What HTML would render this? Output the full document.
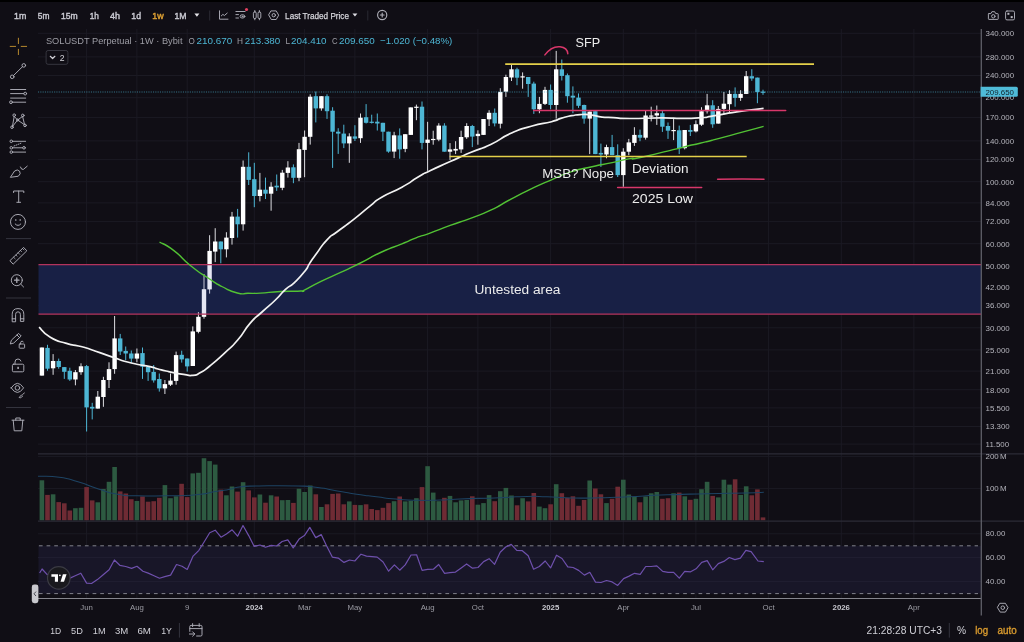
<!DOCTYPE html>
<html lang="en"><head><meta charset="utf-8"><title>SOLUSDT Perpetual 1W Bybit</title>
<style>
html,body{margin:0;padding:0;background:#100e15;}
body{width:1024px;height:642px;overflow:hidden;position:relative;font-family:"Liberation Sans", Arial, Helvetica, sans-serif;}
svg{position:absolute;left:0;top:0;display:block;will-change:transform}
text{font-family:"Liberation Sans", Arial, Helvetica, sans-serif;}
.ax{font-size:7.9px;fill:#b4b4bc}
.tm{font-size:7.8px;fill:#9b9ba3;text-anchor:middle}
.tmb{font-size:7.8px;fill:#c8c8cf;text-anchor:middle;font-weight:bold}
.tf{font-size:9.3px;fill:#d6d6dc;font-weight:bold}
.an{font-size:13.3px;fill:#ececec}
.bt{font-size:10.2px;fill:#cfcfd6}
.ic{fill:none;stroke:#aeaeb7;stroke-width:0.95;stroke-linecap:round;stroke-linejoin:round}
</style></head><body>
<svg width="1024" height="642" viewBox="0 0 1024 642">
<rect x="0" y="0" width="1024" height="642" fill="#100e15"/>
<rect x="0" y="0" width="1024" height="2" fill="#000"/>

<g stroke="#1b1a23" stroke-width="1">
<line x1="38" y1="33.3" x2="981" y2="33.3"/>
<line x1="38" y1="56.9" x2="981" y2="56.9"/>
<line x1="38" y1="75.5" x2="981" y2="75.5"/>
<line x1="38" y1="97.7" x2="981" y2="97.7"/>
<line x1="38" y1="117.4" x2="981" y2="117.4"/>
<line x1="38" y1="140.9" x2="981" y2="140.9"/>
<line x1="38" y1="159.6" x2="981" y2="159.6"/>
<line x1="38" y1="181.7" x2="981" y2="181.7"/>
<line x1="38" y1="202.9" x2="981" y2="202.9"/>
<line x1="38" y1="221.6" x2="981" y2="221.6"/>
<line x1="38" y1="243.7" x2="981" y2="243.7"/>
<line x1="38" y1="265.8" x2="981" y2="265.8"/>
<line x1="38" y1="287" x2="981" y2="287"/>
<line x1="38" y1="305.7" x2="981" y2="305.7"/>
<line x1="38" y1="327.8" x2="981" y2="327.8"/>
<line x1="38" y1="349.9" x2="981" y2="349.9"/>
<line x1="38" y1="371.1" x2="981" y2="371.1"/>
<line x1="38" y1="389.7" x2="981" y2="389.7"/>
<line x1="38" y1="407.9" x2="981" y2="407.9"/>
<line x1="38" y1="426.5" x2="981" y2="426.5"/>
<line x1="38" y1="444.1" x2="981" y2="444.1"/>
<line x1="38" y1="456.4" x2="981" y2="456.4"/>
<line x1="38" y1="488.4" x2="981" y2="488.4"/>
<line x1="38" y1="533.8" x2="981" y2="533.8"/>
<line x1="38" y1="557.7" x2="981" y2="557.7"/>
<line x1="38" y1="581.6" x2="981" y2="581.6"/>
<line x1="86.6" y1="29" x2="86.6" y2="598"/>
<line x1="136.9" y1="29" x2="136.9" y2="598"/>
<line x1="187.2" y1="29" x2="187.2" y2="598"/>
<line x1="254.3" y1="29" x2="254.3" y2="598"/>
<line x1="304.6" y1="29" x2="304.6" y2="598"/>
<line x1="354.9" y1="29" x2="354.9" y2="598"/>
<line x1="427.6" y1="29" x2="427.6" y2="598"/>
<line x1="477.9" y1="29" x2="477.9" y2="598"/>
<line x1="550.6" y1="29" x2="550.6" y2="598"/>
<line x1="623.3" y1="29" x2="623.3" y2="598"/>
<line x1="695.9" y1="29" x2="695.9" y2="598"/>
<line x1="768.6" y1="29" x2="768.6" y2="598"/>
<line x1="841.3" y1="29" x2="841.3" y2="598"/>
<line x1="913.9" y1="29" x2="913.9" y2="598"/>
</g>
<rect x="38.5" y="264.6" width="942.5" height="49.6" fill="#161e39"/>
<g>
<rect x="41.4" y="347.5" width="1" height="28.1" fill="#dddde1"/>
<rect x="39.7" y="347.5" width="4.4" height="28.1" fill="#ffffff"/>
<rect x="47" y="344.8" width="1" height="25.9" fill="#4db6d4"/>
<rect x="45.3" y="347.9" width="4.4" height="20.8" fill="#4db6d4"/>
<rect x="52.6" y="354.1" width="1" height="20.7" fill="#dddde1"/>
<rect x="50.9" y="361" width="4.4" height="7.3" fill="#ffffff"/>
<rect x="58.2" y="358.6" width="1" height="10.1" fill="#4db6d4"/>
<rect x="56.5" y="361" width="4.4" height="6" fill="#4db6d4"/>
<rect x="63.8" y="367" width="1" height="11.9" fill="#4db6d4"/>
<rect x="62.1" y="367.1" width="4.4" height="4.7" fill="#4db6d4"/>
<rect x="69.3" y="367.7" width="1" height="13.2" fill="#4db6d4"/>
<rect x="67.6" y="370.8" width="4.4" height="8.7" fill="#4db6d4"/>
<rect x="74.9" y="370" width="1" height="15.3" fill="#dddde1"/>
<rect x="73.2" y="372.2" width="4.4" height="7.3" fill="#ffffff"/>
<rect x="80.5" y="363.3" width="1" height="11.5" fill="#dddde1"/>
<rect x="78.8" y="366.3" width="4.4" height="5.9" fill="#ffffff"/>
<rect x="86.1" y="365" width="1" height="66.5" fill="#4db6d4"/>
<rect x="84.4" y="366.1" width="4.4" height="41.3" fill="#4db6d4"/>
<rect x="91.7" y="402.8" width="1" height="16.6" fill="#4db6d4"/>
<rect x="90" y="406.8" width="4.4" height="1.8" fill="#4db6d4"/>
<rect x="97.3" y="391" width="1" height="17.6" fill="#dddde1"/>
<rect x="95.6" y="396.7" width="4.4" height="11.9" fill="#ffffff"/>
<rect x="102.9" y="376.8" width="1" height="30" fill="#dddde1"/>
<rect x="101.2" y="380" width="4.4" height="17" fill="#ffffff"/>
<rect x="108.5" y="362.3" width="1" height="25.7" fill="#dddde1"/>
<rect x="106.8" y="369.1" width="4.4" height="10.9" fill="#ffffff"/>
<rect x="114.1" y="316" width="1" height="57.8" fill="#dddde1"/>
<rect x="112.4" y="338.4" width="4.4" height="30.7" fill="#ffffff"/>
<rect x="119.7" y="333.9" width="1" height="21.1" fill="#4db6d4"/>
<rect x="118" y="338.4" width="4.4" height="13.1" fill="#4db6d4"/>
<rect x="125.2" y="346.5" width="1" height="13.7" fill="#4db6d4"/>
<rect x="123.5" y="350.9" width="4.4" height="2.6" fill="#4db6d4"/>
<rect x="130.8" y="350.5" width="1" height="12.5" fill="#4db6d4"/>
<rect x="129.1" y="353.5" width="4.4" height="5.1" fill="#4db6d4"/>
<rect x="136.4" y="348.5" width="1" height="13.8" fill="#dddde1"/>
<rect x="134.7" y="353.5" width="4.4" height="5.1" fill="#ffffff"/>
<rect x="142" y="347.5" width="1" height="31.4" fill="#4db6d4"/>
<rect x="140.3" y="353.1" width="4.4" height="13.6" fill="#4db6d4"/>
<rect x="147.6" y="366.7" width="1" height="14.2" fill="#4db6d4"/>
<rect x="145.9" y="366.7" width="4.4" height="5.5" fill="#4db6d4"/>
<rect x="153.2" y="365" width="1" height="17.6" fill="#4db6d4"/>
<rect x="151.5" y="371.9" width="4.4" height="8.5" fill="#4db6d4"/>
<rect x="158.8" y="373.5" width="1" height="18.1" fill="#4db6d4"/>
<rect x="157.1" y="379" width="4.4" height="9.4" fill="#4db6d4"/>
<rect x="164.4" y="380" width="1" height="14" fill="#dddde1"/>
<rect x="162.7" y="384.1" width="4.4" height="4.3" fill="#ffffff"/>
<rect x="170" y="373.5" width="1" height="12.5" fill="#dddde1"/>
<rect x="168.3" y="380.6" width="4.4" height="4.1" fill="#ffffff"/>
<rect x="175.6" y="351.6" width="1" height="33.1" fill="#dddde1"/>
<rect x="173.9" y="355.1" width="4.4" height="25.8" fill="#ffffff"/>
<rect x="181.2" y="350.7" width="1" height="11.9" fill="#4db6d4"/>
<rect x="179.5" y="354.8" width="4.4" height="4.6" fill="#4db6d4"/>
<rect x="186.7" y="358.5" width="1" height="13.1" fill="#4db6d4"/>
<rect x="185" y="358.5" width="4.4" height="7.9" fill="#4db6d4"/>
<rect x="192.3" y="326.4" width="1" height="39.6" fill="#dddde1"/>
<rect x="190.6" y="331.4" width="4.4" height="34.6" fill="#ffffff"/>
<rect x="197.9" y="312.1" width="1" height="21.2" fill="#dddde1"/>
<rect x="196.2" y="316.8" width="4.4" height="15" fill="#ffffff"/>
<rect x="203.5" y="274" width="1" height="44.7" fill="#dddde1"/>
<rect x="201.8" y="289.2" width="4.4" height="27.6" fill="#ffffff"/>
<rect x="209.1" y="235.2" width="1" height="58.4" fill="#dddde1"/>
<rect x="207.4" y="250.9" width="4.4" height="38.5" fill="#ffffff"/>
<rect x="214.7" y="228.2" width="1" height="33.9" fill="#dddde1"/>
<rect x="213" y="241.5" width="4.4" height="10.1" fill="#ffffff"/>
<rect x="220.3" y="241.5" width="1" height="21.8" fill="#4db6d4"/>
<rect x="218.6" y="241.5" width="4.4" height="7.8" fill="#4db6d4"/>
<rect x="225.9" y="232.2" width="1" height="25.2" fill="#dddde1"/>
<rect x="224.2" y="237.6" width="4.4" height="11.7" fill="#ffffff"/>
<rect x="231.5" y="211.9" width="1" height="32.7" fill="#dddde1"/>
<rect x="229.8" y="216.6" width="4.4" height="21.4" fill="#ffffff"/>
<rect x="237.1" y="208.9" width="1" height="28.7" fill="#4db6d4"/>
<rect x="235.4" y="216.6" width="4.4" height="7.7" fill="#4db6d4"/>
<rect x="242.6" y="160.5" width="1" height="70.1" fill="#dddde1"/>
<rect x="240.9" y="166.8" width="4.4" height="57.5" fill="#ffffff"/>
<rect x="248.2" y="152.3" width="1" height="32.7" fill="#4db6d4"/>
<rect x="246.5" y="166.8" width="4.4" height="13.1" fill="#4db6d4"/>
<rect x="253.8" y="162.8" width="1" height="44.4" fill="#4db6d4"/>
<rect x="252.1" y="179.2" width="4.4" height="16.8" fill="#4db6d4"/>
<rect x="259.4" y="172.9" width="1" height="28.5" fill="#dddde1"/>
<rect x="257.7" y="189.7" width="4.4" height="6.3" fill="#ffffff"/>
<rect x="265" y="177.6" width="1" height="21.4" fill="#4db6d4"/>
<rect x="263.3" y="189.7" width="4.4" height="4" fill="#4db6d4"/>
<rect x="270.6" y="182.2" width="1" height="28.5" fill="#dddde1"/>
<rect x="268.9" y="186.7" width="4.4" height="7" fill="#ffffff"/>
<rect x="276.2" y="174.5" width="1" height="16.4" fill="#4db6d4"/>
<rect x="274.5" y="185.7" width="4.4" height="1.7" fill="#4db6d4"/>
<rect x="281.8" y="169.9" width="1" height="20.3" fill="#dddde1"/>
<rect x="280.1" y="172.7" width="4.4" height="15.1" fill="#ffffff"/>
<rect x="287.4" y="161.2" width="1" height="16.4" fill="#dddde1"/>
<rect x="285.7" y="167.5" width="4.4" height="5.4" fill="#ffffff"/>
<rect x="292.9" y="164.4" width="1" height="18.8" fill="#4db6d4"/>
<rect x="291.2" y="167.3" width="4.4" height="10.5" fill="#4db6d4"/>
<rect x="298.5" y="142.9" width="1" height="38.3" fill="#dddde1"/>
<rect x="296.8" y="149.2" width="4.4" height="28.6" fill="#ffffff"/>
<rect x="304.1" y="130.5" width="1" height="46.7" fill="#dddde1"/>
<rect x="302.4" y="136.8" width="4.4" height="13.1" fill="#ffffff"/>
<rect x="309.7" y="94.3" width="1" height="50.3" fill="#dddde1"/>
<rect x="308" y="96.7" width="4.4" height="40.1" fill="#ffffff"/>
<rect x="315.3" y="91.5" width="1" height="30.9" fill="#4db6d4"/>
<rect x="313.6" y="96.2" width="4.4" height="12.2" fill="#4db6d4"/>
<rect x="320.9" y="96.2" width="1" height="14.5" fill="#dddde1"/>
<rect x="319.2" y="96.2" width="4.4" height="12.2" fill="#ffffff"/>
<rect x="326.5" y="94.3" width="1" height="24.6" fill="#4db6d4"/>
<rect x="324.8" y="96.2" width="4.4" height="15" fill="#4db6d4"/>
<rect x="332.1" y="107.2" width="1" height="60.7" fill="#4db6d4"/>
<rect x="330.4" y="110.7" width="4.4" height="21" fill="#4db6d4"/>
<rect x="337.7" y="128.2" width="1" height="25.7" fill="#4db6d4"/>
<rect x="336" y="131.7" width="4.4" height="1.9" fill="#4db6d4"/>
<rect x="343.3" y="124.7" width="1" height="23.4" fill="#4db6d4"/>
<rect x="341.6" y="133.6" width="4.4" height="9.8" fill="#4db6d4"/>
<rect x="348.8" y="133.3" width="1" height="29.5" fill="#dddde1"/>
<rect x="347.1" y="136.4" width="4.4" height="7" fill="#ffffff"/>
<rect x="354.4" y="125.2" width="1" height="15.8" fill="#4db6d4"/>
<rect x="352.7" y="136.4" width="4.4" height="2.3" fill="#4db6d4"/>
<rect x="360" y="113.5" width="1" height="29.4" fill="#dddde1"/>
<rect x="358.3" y="117.7" width="4.4" height="20.5" fill="#ffffff"/>
<rect x="365.6" y="104.1" width="1" height="19.4" fill="#4db6d4"/>
<rect x="363.9" y="117.2" width="4.4" height="5.6" fill="#4db6d4"/>
<rect x="371.2" y="114.7" width="1" height="8.8" fill="#4db6d4"/>
<rect x="369.5" y="121.7" width="4.4" height="1.2" fill="#4db6d4"/>
<rect x="376.8" y="113.5" width="1" height="17" fill="#4db6d4"/>
<rect x="375.1" y="121.7" width="4.4" height="1.8" fill="#4db6d4"/>
<rect x="382.4" y="122.8" width="1" height="18.2" fill="#4db6d4"/>
<rect x="380.7" y="122.8" width="4.4" height="8.9" fill="#4db6d4"/>
<rect x="388" y="131.7" width="1" height="21" fill="#4db6d4"/>
<rect x="386.3" y="131.7" width="4.4" height="19.9" fill="#4db6d4"/>
<rect x="393.6" y="131.8" width="1" height="26.3" fill="#dddde1"/>
<rect x="391.9" y="135.3" width="4.4" height="16.3" fill="#ffffff"/>
<rect x="399.2" y="128.4" width="1" height="30.3" fill="#4db6d4"/>
<rect x="397.5" y="135.4" width="4.4" height="14" fill="#4db6d4"/>
<rect x="404.7" y="134.2" width="1" height="18" fill="#dddde1"/>
<rect x="403" y="134.2" width="4.4" height="14.7" fill="#ffffff"/>
<rect x="410.3" y="107.4" width="1" height="27.5" fill="#dddde1"/>
<rect x="408.6" y="107.4" width="4.4" height="27.5" fill="#ffffff"/>
<rect x="415.9" y="104.6" width="1" height="15.6" fill="#dddde1"/>
<rect x="414.2" y="106.7" width="4.4" height="1.2" fill="#ffffff"/>
<rect x="421.5" y="101.5" width="1" height="47.9" fill="#4db6d4"/>
<rect x="419.8" y="106.7" width="4.4" height="36.2" fill="#4db6d4"/>
<rect x="427.1" y="121.8" width="1" height="49.1" fill="#dddde1"/>
<rect x="425.4" y="139.6" width="4.4" height="3.3" fill="#ffffff"/>
<rect x="432.7" y="130.7" width="1" height="14" fill="#dddde1"/>
<rect x="431" y="138.9" width="4.4" height="1.2" fill="#ffffff"/>
<rect x="438.3" y="123.2" width="1" height="18" fill="#dddde1"/>
<rect x="436.6" y="125.6" width="4.4" height="14" fill="#ffffff"/>
<rect x="443.9" y="123.2" width="1" height="28.5" fill="#4db6d4"/>
<rect x="442.2" y="125.6" width="4.4" height="26.1" fill="#4db6d4"/>
<rect x="449.5" y="143.1" width="1" height="16.8" fill="#dddde1"/>
<rect x="447.8" y="149.4" width="4.4" height="2.3" fill="#ffffff"/>
<rect x="455.1" y="141.2" width="1" height="12.9" fill="#dddde1"/>
<rect x="453.4" y="148.9" width="4.4" height="1.7" fill="#ffffff"/>
<rect x="460.6" y="130.7" width="1" height="22.2" fill="#dddde1"/>
<rect x="458.9" y="137" width="4.4" height="12.4" fill="#ffffff"/>
<rect x="466.2" y="123.2" width="1" height="15.7" fill="#dddde1"/>
<rect x="464.5" y="126" width="4.4" height="11.3" fill="#ffffff"/>
<rect x="471.8" y="124.9" width="1" height="22.2" fill="#4db6d4"/>
<rect x="470.1" y="126" width="4.4" height="10.6" fill="#4db6d4"/>
<rect x="477.4" y="130.3" width="1" height="14.4" fill="#dddde1"/>
<rect x="475.7" y="133.8" width="4.4" height="2.3" fill="#ffffff"/>
<rect x="483" y="119" width="1" height="15.9" fill="#dddde1"/>
<rect x="481.3" y="119" width="4.4" height="15.9" fill="#ffffff"/>
<rect x="488.6" y="110.2" width="1" height="15.8" fill="#dddde1"/>
<rect x="486.9" y="112.8" width="4.4" height="6.5" fill="#ffffff"/>
<rect x="494.2" y="108.5" width="1" height="17.9" fill="#4db6d4"/>
<rect x="492.5" y="112.8" width="4.4" height="10.6" fill="#4db6d4"/>
<rect x="499.8" y="88.2" width="1" height="40.2" fill="#dddde1"/>
<rect x="498.1" y="91.9" width="4.4" height="31.8" fill="#ffffff"/>
<rect x="505.4" y="74.7" width="1" height="22.2" fill="#dddde1"/>
<rect x="503.7" y="77" width="4.4" height="14.7" fill="#ffffff"/>
<rect x="511" y="64.2" width="1" height="16.8" fill="#dddde1"/>
<rect x="509.3" y="69.3" width="4.4" height="8.2" fill="#ffffff"/>
<rect x="516.5" y="67.7" width="1" height="17.5" fill="#4db6d4"/>
<rect x="514.8" y="69.3" width="4.4" height="8.4" fill="#4db6d4"/>
<rect x="522.1" y="72.4" width="1" height="16.3" fill="#dddde1"/>
<rect x="520.4" y="76.3" width="4.4" height="1.2" fill="#ffffff"/>
<rect x="527.7" y="77" width="1" height="19.9" fill="#4db6d4"/>
<rect x="526" y="77" width="4.4" height="7" fill="#4db6d4"/>
<rect x="533.3" y="81.7" width="1" height="32.2" fill="#4db6d4"/>
<rect x="531.6" y="83.6" width="4.4" height="25.7" fill="#4db6d4"/>
<rect x="538.9" y="96.9" width="1" height="16.3" fill="#dddde1"/>
<rect x="537.2" y="103.9" width="4.4" height="5.4" fill="#ffffff"/>
<rect x="544.5" y="86.8" width="1" height="18.2" fill="#dddde1"/>
<rect x="542.8" y="89.9" width="4.4" height="14" fill="#ffffff"/>
<rect x="550.1" y="84.5" width="1" height="24.8" fill="#4db6d4"/>
<rect x="548.4" y="89.9" width="4.4" height="15.1" fill="#4db6d4"/>
<rect x="555.7" y="50.9" width="1" height="67.7" fill="#dddde1"/>
<rect x="554" y="69.3" width="4.4" height="35.7" fill="#ffffff"/>
<rect x="561.3" y="59.5" width="1" height="21" fill="#4db6d4"/>
<rect x="559.6" y="69.3" width="4.4" height="6.6" fill="#4db6d4"/>
<rect x="566.9" y="73.5" width="1" height="29.2" fill="#4db6d4"/>
<rect x="565.2" y="75.2" width="4.4" height="21" fill="#4db6d4"/>
<rect x="572.4" y="86.4" width="1" height="26.8" fill="#4db6d4"/>
<rect x="570.7" y="95.7" width="4.4" height="1.9" fill="#4db6d4"/>
<rect x="578" y="93.4" width="1" height="14.5" fill="#4db6d4"/>
<rect x="576.3" y="97.6" width="4.4" height="8.2" fill="#4db6d4"/>
<rect x="583.6" y="104.6" width="1" height="19.1" fill="#4db6d4"/>
<rect x="581.9" y="105" width="4.4" height="13.6" fill="#4db6d4"/>
<rect x="589.2" y="111.6" width="1" height="42.5" fill="#dddde1"/>
<rect x="587.5" y="111.6" width="4.4" height="7" fill="#ffffff"/>
<rect x="594.8" y="111.2" width="1" height="42.9" fill="#4db6d4"/>
<rect x="593.1" y="111.2" width="4.4" height="42.9" fill="#4db6d4"/>
<rect x="600.4" y="143.6" width="1" height="23.3" fill="#4db6d4"/>
<rect x="598.7" y="152.9" width="4.4" height="1.6" fill="#4db6d4"/>
<rect x="606" y="144.7" width="1" height="13.6" fill="#dddde1"/>
<rect x="604.3" y="147.1" width="4.4" height="7.4" fill="#ffffff"/>
<rect x="611.6" y="134.9" width="1" height="20.3" fill="#4db6d4"/>
<rect x="609.9" y="147.1" width="4.4" height="8.1" fill="#4db6d4"/>
<rect x="617.2" y="144.3" width="1" height="32.7" fill="#4db6d4"/>
<rect x="615.5" y="155.2" width="4.4" height="19.9" fill="#4db6d4"/>
<rect x="622.8" y="148.2" width="1" height="38.6" fill="#dddde1"/>
<rect x="621.1" y="151.7" width="4.4" height="23.4" fill="#ffffff"/>
<rect x="628.3" y="138.9" width="1" height="16.3" fill="#dddde1"/>
<rect x="626.6" y="142.4" width="4.4" height="9.3" fill="#ffffff"/>
<rect x="633.9" y="127.2" width="1" height="18.7" fill="#dddde1"/>
<rect x="632.2" y="134.9" width="4.4" height="8" fill="#ffffff"/>
<rect x="639.5" y="129.6" width="1" height="11.6" fill="#4db6d4"/>
<rect x="637.8" y="134.9" width="4.4" height="2.8" fill="#4db6d4"/>
<rect x="645.1" y="110.9" width="1" height="28.7" fill="#dddde1"/>
<rect x="643.4" y="115.5" width="4.4" height="22.2" fill="#ffffff"/>
<rect x="650.7" y="106.7" width="1" height="14.7" fill="#dddde1"/>
<rect x="649" y="115.5" width="4.4" height="1.2" fill="#ffffff"/>
<rect x="656.3" y="105.5" width="1" height="19.4" fill="#dddde1"/>
<rect x="654.6" y="113.2" width="4.4" height="2.3" fill="#ffffff"/>
<rect x="661.9" y="110.9" width="1" height="21" fill="#4db6d4"/>
<rect x="660.2" y="113.2" width="4.4" height="13.5" fill="#4db6d4"/>
<rect x="667.5" y="122.5" width="1" height="16.4" fill="#4db6d4"/>
<rect x="665.8" y="126" width="4.4" height="4.7" fill="#4db6d4"/>
<rect x="673.1" y="117.9" width="1" height="22.2" fill="#dddde1"/>
<rect x="671.4" y="130" width="4.4" height="1.2" fill="#ffffff"/>
<rect x="678.7" y="125.6" width="1" height="28.5" fill="#4db6d4"/>
<rect x="677" y="130.3" width="4.4" height="17.9" fill="#4db6d4"/>
<rect x="684.2" y="130" width="1" height="19.4" fill="#dddde1"/>
<rect x="682.5" y="130" width="4.4" height="18.2" fill="#ffffff"/>
<rect x="689.8" y="124.9" width="1" height="11.1" fill="#4db6d4"/>
<rect x="688.1" y="130" width="4.4" height="1.8" fill="#4db6d4"/>
<rect x="695.4" y="120.4" width="1" height="12" fill="#dddde1"/>
<rect x="693.7" y="124.2" width="4.4" height="7.2" fill="#ffffff"/>
<rect x="701" y="107.2" width="1" height="18.7" fill="#dddde1"/>
<rect x="699.3" y="111.2" width="4.4" height="13.5" fill="#ffffff"/>
<rect x="706.6" y="93.9" width="1" height="19.6" fill="#dddde1"/>
<rect x="704.9" y="105.3" width="4.4" height="5.9" fill="#ffffff"/>
<rect x="712.2" y="100.2" width="1" height="27.6" fill="#4db6d4"/>
<rect x="710.5" y="105.3" width="4.4" height="19" fill="#4db6d4"/>
<rect x="717.8" y="106" width="1" height="17.6" fill="#dddde1"/>
<rect x="716.1" y="108.9" width="4.4" height="14.7" fill="#ffffff"/>
<rect x="723.4" y="92" width="1" height="22.2" fill="#dddde1"/>
<rect x="721.7" y="103.7" width="4.4" height="5.2" fill="#ffffff"/>
<rect x="729" y="90.2" width="1" height="22.4" fill="#dddde1"/>
<rect x="727.3" y="93.9" width="4.4" height="10.3" fill="#ffffff"/>
<rect x="734.6" y="87.4" width="1" height="19.3" fill="#4db6d4"/>
<rect x="732.9" y="93.9" width="4.4" height="4" fill="#4db6d4"/>
<rect x="740.1" y="90.2" width="1" height="10.7" fill="#dddde1"/>
<rect x="738.4" y="93.9" width="4.4" height="4" fill="#ffffff"/>
<rect x="745.7" y="71" width="1" height="22.9" fill="#dddde1"/>
<rect x="744" y="76.2" width="4.4" height="17.7" fill="#ffffff"/>
<rect x="751.3" y="69.2" width="1" height="11.6" fill="#4db6d4"/>
<rect x="749.6" y="76.2" width="4.4" height="2.3" fill="#4db6d4"/>
<rect x="756.9" y="77.6" width="1" height="25.6" fill="#4db6d4"/>
<rect x="755.2" y="77.6" width="4.4" height="14.4" fill="#4db6d4"/>
<rect x="762.5" y="89.7" width="1" height="5.1" fill="#4db6d4"/>
<rect x="760.8" y="91.6" width="4.4" height="1.2" fill="#4db6d4"/>
</g>
<rect x="38.5" y="264.6" width="942.5" height="49.6" fill="#2832a0" fill-opacity="0.12"/>
<line x1="38.5" y1="264.6" x2="981" y2="264.6" stroke="#b3335c" stroke-width="1.3"/>
<line x1="38.5" y1="314.2" x2="981" y2="314.2" stroke="#b3335c" stroke-width="1.3"/>
<text class="an" x="474.4" y="293.8" style="font-size:13.7px" textLength="86" lengthAdjust="spacingAndGlyphs">Untested area</text>
<path d="M159.5 242 C164.3 244.9 163.4 242.6 173.9 250.6 C184.4 258.6 179.6 256.9 191 266 C202.4 275.1 197.8 271.2 208.1 278 C218.4 284.8 212.1 281.5 221.8 286.5 C231.5 291.5 228.6 290.8 237.3 293 C246 295.2 240.4 293.2 248 293.2 C255.6 293.2 249.4 293.7 260.2 293.1 C271 292.5 267 292.2 280.5 291.5 C294 290.8 292.6 291.6 300.7 291 C308.8 290.4 298 293 304.8 289.8 C311.6 286.6 308.9 287.2 321 281.3 C333.1 275.4 328.4 278.1 341.2 272.2 C354 266.3 345.9 270.2 359.4 263.5 C372.9 256.8 367.5 258.5 381.7 252 C395.9 245.5 390.4 248.6 401.9 243.9 C413.4 239.2 406.7 241.4 416.1 237.8 C425.5 234.2 418.6 237.2 430 233.1 C441.4 229 436.7 230.3 450.2 225.4 C463.7 220.5 457 223.4 470.5 218.3 C484 213.2 477.2 216.6 490.7 210.2 C504.2 203.8 497.5 206.2 511 199.1 C524.5 192 517.7 195.3 531.2 188.9 C544.7 182.5 538 185.5 551.5 179.8 C565 174.1 558.2 176.1 571.7 171.7 C585.2 167.3 578.5 169.7 592 166.7 C605.5 163.7 599.5 165.3 612.2 162.6 C624.9 159.9 621.8 160 630 158.6 C638.2 157.2 626.7 160.2 636.7 158.3 C646.7 156.4 644.4 156.6 660 152.9 C675.6 149.2 670.1 150.3 683.4 147.1 C696.7 143.9 690 145.6 700 143.2 C710 140.8 701.2 143.1 713.4 139.9 C725.6 136.7 720 138.1 736.7 133.6 C753.4 129.1 754.6 128.8 763.6 126.4" fill="none" stroke="#52c234" stroke-width="1.4" stroke-linejoin="round"/>
<path d="M39.1 327.2 C42.8 330.6 41.2 331.9 50.3 337.3 C59.4 342.7 57.1 340.5 66.5 343.4 C75.9 346.3 70.5 344 78.6 346 C86.7 348 80 346 90.8 349.5 C101.6 353 97.5 352.1 111 356.6 C124.5 361.1 118.3 359.7 131.3 363 C144.3 366.3 141.1 364.6 150 366.6 C158.9 368.6 151.8 367.3 158 369 C164.2 370.7 160.2 369.8 168.7 371.6 C177.2 373.4 175.5 373.2 183.6 374.4 C191.7 375.6 187.4 375.9 193 375.3 C198.6 374.7 194.9 375.6 200.5 372.5 C206.1 369.4 201.7 372.5 209.8 366 C217.9 359.5 215.4 361.6 224.8 352.9 C234.2 344.2 229.5 349.6 237.9 339.8 C246.3 330 242 332.7 250 323.4 C258 314.1 253.5 319.8 262 312 C270.5 304.2 267.6 307.5 275.4 300 C283.2 292.5 279.1 295.3 285.5 289.4 C291.9 283.5 288.3 288.4 294.7 282.3 C301.1 276.2 299.8 277.6 304.8 271.2 C309.8 264.8 305.8 269.2 309.8 263.1 C313.8 257 311.2 260.8 316.9 253 C322.6 245.2 320.2 246.9 327 239.8 C333.8 232.7 328.4 238.4 337.2 231.7 C346 225 342.6 228 353.4 219.6 C364.2 211.2 360.2 213.8 369.6 206.4 C379 199 370.9 203.7 381.7 197.3 C392.5 190.9 389.8 193.9 401.9 187.2 C414 180.5 408.7 182.6 418.1 177.1 C427.5 171.6 419.3 175.9 430 170.7 C440.7 165.5 436.7 167.7 450.2 161.6 C463.7 155.5 457 158.2 470.5 152.5 C484 146.8 477.2 150.8 490.7 144.4 C504.2 138 497.5 139.4 511 133.3 C524.5 127.2 517.7 130.1 531.2 126.2 C544.7 122.3 541.4 124.4 551.5 121.7 C561.6 119 554.9 120.1 561.6 118.1 C568.3 116.1 565 116.9 571.7 115.7 C578.4 114.5 575 114.7 581.8 114.5 C588.6 114.3 585.2 114.2 592 115.1 C598.8 116 595 116.3 602.1 117.1 C609.2 117.9 604.1 117.1 613.4 117.6 C622.7 118.1 614.5 118.4 630 118.5 C645.5 118.6 642.2 118 660 117.9 C677.8 117.8 669.5 118.4 683.4 118.3 C697.3 118.2 691.7 118.5 701.7 117.7 C711.7 116.9 701.7 117.8 713.4 115.9 C725.1 114 720 114.4 736.7 111.9 C753.4 109.4 754.6 109.6 763.6 108.4" fill="none" stroke="#f2f2f2" stroke-width="1.7" stroke-linejoin="round"/>
<g stroke="#e4d04a" stroke-width="1.7">
<line x1="505.2" y1="64.1" x2="814" y2="64.1"/>
<line x1="449.6" y1="156.5" x2="746.7" y2="156.5"/>
</g>
<g stroke="#d8376a" stroke-width="1.5" fill="none" stroke-linecap="round">
<line x1="533.7" y1="110.5" x2="785.7" y2="110.5"/>
<line x1="617.6" y1="187.4" x2="701.7" y2="187.4"/>
<path d="M717.6 179.3 Q740 178.6 764 179.2"/>
<path d="M544.9 54.9 C549 49.5 555 46.3 560 46.8 C565 47.3 567.5 50 567.8 53.7"/>
</g>
<text class="an" x="575.6" y="46.8" textLength="24.6" lengthAdjust="spacingAndGlyphs">SFP</text>
<text class="an" x="542.3" y="177.9">MSB? Nope</text>
<text class="an" x="632" y="173.3" textLength="56.6" lengthAdjust="spacingAndGlyphs">Deviation</text>
<text class="an" x="632" y="203.2" textLength="61" lengthAdjust="spacingAndGlyphs">2025 Low</text>
<line x1="38" y1="92" x2="981" y2="92" stroke="#4db6d4" stroke-opacity="0.6" stroke-width="1.1" stroke-dasharray="1.1 1.2"/>
<g>
<rect x="39.6" y="480.3" width="4.6" height="40" fill="#2d5a41"/>
<rect x="45.2" y="494.9" width="4.6" height="25.4" fill="#6f2b34"/>
<rect x="50.8" y="494.3" width="4.6" height="26" fill="#2d5a41"/>
<rect x="56.4" y="502.1" width="4.6" height="18.2" fill="#6f2b34"/>
<rect x="62" y="503.3" width="4.6" height="17" fill="#6f2b34"/>
<rect x="67.5" y="510.5" width="4.6" height="9.8" fill="#6f2b34"/>
<rect x="73.1" y="508.2" width="4.6" height="12.1" fill="#2d5a41"/>
<rect x="78.7" y="507.8" width="4.6" height="12.5" fill="#2d5a41"/>
<rect x="84.3" y="487.1" width="4.6" height="33.2" fill="#6f2b34"/>
<rect x="89.9" y="500.4" width="4.6" height="19.9" fill="#6f2b34"/>
<rect x="95.5" y="502.3" width="4.6" height="18" fill="#2d5a41"/>
<rect x="101.1" y="489" width="4.6" height="31.3" fill="#2d5a41"/>
<rect x="106.7" y="481.8" width="4.6" height="38.5" fill="#2d5a41"/>
<rect x="112.3" y="467" width="4.6" height="53.3" fill="#2d5a41"/>
<rect x="117.9" y="491.4" width="4.6" height="28.9" fill="#6f2b34"/>
<rect x="123.5" y="493.5" width="4.6" height="26.8" fill="#6f2b34"/>
<rect x="129" y="499.2" width="4.6" height="21.1" fill="#6f2b34"/>
<rect x="134.6" y="501" width="4.6" height="19.3" fill="#2d5a41"/>
<rect x="140.2" y="496.5" width="4.6" height="23.8" fill="#6f2b34"/>
<rect x="145.8" y="501.7" width="4.6" height="18.6" fill="#6f2b34"/>
<rect x="151.4" y="501.2" width="4.6" height="19.1" fill="#6f2b34"/>
<rect x="157" y="497.8" width="4.6" height="22.5" fill="#6f2b34"/>
<rect x="162.6" y="485.1" width="4.6" height="35.2" fill="#2d5a41"/>
<rect x="168.2" y="498.2" width="4.6" height="22.1" fill="#2d5a41"/>
<rect x="173.8" y="496.3" width="4.6" height="24" fill="#2d5a41"/>
<rect x="179.3" y="483.8" width="4.6" height="36.5" fill="#6f2b34"/>
<rect x="184.9" y="497.1" width="4.6" height="23.2" fill="#6f2b34"/>
<rect x="190.5" y="473.4" width="4.6" height="46.9" fill="#2d5a41"/>
<rect x="196.1" y="472.8" width="4.6" height="47.5" fill="#2d5a41"/>
<rect x="201.7" y="458.2" width="4.6" height="62.1" fill="#2d5a41"/>
<rect x="207.3" y="461.1" width="4.6" height="59.2" fill="#2d5a41"/>
<rect x="212.9" y="464.6" width="4.6" height="55.7" fill="#2d5a41"/>
<rect x="218.5" y="489.6" width="4.6" height="30.7" fill="#6f2b34"/>
<rect x="224.1" y="495.3" width="4.6" height="25" fill="#2d5a41"/>
<rect x="229.7" y="486.5" width="4.6" height="33.8" fill="#2d5a41"/>
<rect x="235.2" y="491.6" width="4.6" height="28.7" fill="#6f2b34"/>
<rect x="240.8" y="482.2" width="4.6" height="38.1" fill="#2d5a41"/>
<rect x="246.4" y="490.4" width="4.6" height="29.9" fill="#6f2b34"/>
<rect x="252" y="497.4" width="4.6" height="22.9" fill="#6f2b34"/>
<rect x="257.6" y="494.5" width="4.6" height="25.8" fill="#2d5a41"/>
<rect x="263.2" y="502.7" width="4.6" height="17.6" fill="#6f2b34"/>
<rect x="268.8" y="495.3" width="4.6" height="25" fill="#2d5a41"/>
<rect x="274.4" y="496.5" width="4.6" height="23.8" fill="#6f2b34"/>
<rect x="280" y="500.2" width="4.6" height="20.1" fill="#2d5a41"/>
<rect x="285.6" y="500" width="4.6" height="20.3" fill="#2d5a41"/>
<rect x="291.1" y="502.9" width="4.6" height="17.4" fill="#6f2b34"/>
<rect x="296.7" y="488.7" width="4.6" height="31.6" fill="#2d5a41"/>
<rect x="302.3" y="492" width="4.6" height="28.3" fill="#2d5a41"/>
<rect x="307.9" y="485.5" width="4.6" height="34.8" fill="#2d5a41"/>
<rect x="313.5" y="494.3" width="4.6" height="26" fill="#6f2b34"/>
<rect x="319.1" y="507" width="4.6" height="13.3" fill="#2d5a41"/>
<rect x="324.7" y="504.3" width="4.6" height="16" fill="#6f2b34"/>
<rect x="330.3" y="493.9" width="4.6" height="26.4" fill="#6f2b34"/>
<rect x="335.9" y="493.5" width="4.6" height="26.8" fill="#6f2b34"/>
<rect x="341.5" y="504.3" width="4.6" height="16" fill="#6f2b34"/>
<rect x="347" y="501.4" width="4.6" height="18.9" fill="#2d5a41"/>
<rect x="352.6" y="504.9" width="4.6" height="15.4" fill="#6f2b34"/>
<rect x="358.2" y="505.1" width="4.6" height="15.2" fill="#2d5a41"/>
<rect x="363.8" y="504.3" width="4.6" height="16" fill="#6f2b34"/>
<rect x="369.4" y="509" width="4.6" height="11.3" fill="#6f2b34"/>
<rect x="375" y="510.1" width="4.6" height="10.2" fill="#6f2b34"/>
<rect x="380.6" y="507.8" width="4.6" height="12.5" fill="#6f2b34"/>
<rect x="386.2" y="503.1" width="4.6" height="17.2" fill="#6f2b34"/>
<rect x="391.8" y="501.2" width="4.6" height="19.1" fill="#2d5a41"/>
<rect x="397.4" y="496.5" width="4.6" height="23.8" fill="#6f2b34"/>
<rect x="402.9" y="501.4" width="4.6" height="18.9" fill="#2d5a41"/>
<rect x="408.5" y="500.8" width="4.6" height="19.5" fill="#2d5a41"/>
<rect x="414.1" y="498.2" width="4.6" height="22.1" fill="#2d5a41"/>
<rect x="419.7" y="487.1" width="4.6" height="33.2" fill="#6f2b34"/>
<rect x="425.3" y="466.2" width="4.6" height="54.1" fill="#2d5a41"/>
<rect x="430.9" y="492.6" width="4.6" height="27.7" fill="#2d5a41"/>
<rect x="436.5" y="501.2" width="4.6" height="19.1" fill="#2d5a41"/>
<rect x="442.1" y="497.8" width="4.6" height="22.5" fill="#6f2b34"/>
<rect x="447.7" y="495.9" width="4.6" height="24.4" fill="#2d5a41"/>
<rect x="453.3" y="502.3" width="4.6" height="18" fill="#2d5a41"/>
<rect x="458.8" y="500.4" width="4.6" height="19.9" fill="#2d5a41"/>
<rect x="464.4" y="500" width="4.6" height="20.3" fill="#2d5a41"/>
<rect x="470" y="496.3" width="4.6" height="24" fill="#6f2b34"/>
<rect x="475.6" y="504.7" width="4.6" height="15.6" fill="#2d5a41"/>
<rect x="481.2" y="503.1" width="4.6" height="17.2" fill="#2d5a41"/>
<rect x="486.8" y="495.1" width="4.6" height="25.2" fill="#2d5a41"/>
<rect x="492.4" y="501.2" width="4.6" height="19.1" fill="#6f2b34"/>
<rect x="498" y="491.2" width="4.6" height="29.1" fill="#2d5a41"/>
<rect x="503.6" y="487.9" width="4.6" height="32.4" fill="#2d5a41"/>
<rect x="509.2" y="495.5" width="4.6" height="24.8" fill="#2d5a41"/>
<rect x="514.8" y="505.3" width="4.6" height="15" fill="#6f2b34"/>
<rect x="520.3" y="498.2" width="4.6" height="22.1" fill="#2d5a41"/>
<rect x="525.9" y="501.4" width="4.6" height="18.9" fill="#6f2b34"/>
<rect x="531.5" y="493" width="4.6" height="27.3" fill="#6f2b34"/>
<rect x="537.1" y="506.6" width="4.6" height="13.7" fill="#2d5a41"/>
<rect x="542.7" y="508.2" width="4.6" height="12.1" fill="#2d5a41"/>
<rect x="548.3" y="504.3" width="4.6" height="16" fill="#6f2b34"/>
<rect x="553.9" y="484.2" width="4.6" height="36.1" fill="#2d5a41"/>
<rect x="559.5" y="493.2" width="4.6" height="27.1" fill="#6f2b34"/>
<rect x="565.1" y="497.8" width="4.6" height="22.5" fill="#6f2b34"/>
<rect x="570.6" y="496.3" width="4.6" height="24" fill="#6f2b34"/>
<rect x="576.2" y="505.8" width="4.6" height="14.5" fill="#6f2b34"/>
<rect x="581.8" y="500" width="4.6" height="20.3" fill="#6f2b34"/>
<rect x="587.4" y="480.5" width="4.6" height="39.8" fill="#2d5a41"/>
<rect x="593" y="488.5" width="4.6" height="31.8" fill="#6f2b34"/>
<rect x="598.6" y="494.3" width="4.6" height="26" fill="#6f2b34"/>
<rect x="604.2" y="503.1" width="4.6" height="17.2" fill="#2d5a41"/>
<rect x="609.8" y="498.8" width="4.6" height="21.5" fill="#6f2b34"/>
<rect x="615.4" y="486.7" width="4.6" height="33.6" fill="#6f2b34"/>
<rect x="621" y="479.7" width="4.6" height="40.6" fill="#2d5a41"/>
<rect x="626.5" y="494.5" width="4.6" height="25.8" fill="#2d5a41"/>
<rect x="632.1" y="496.9" width="4.6" height="23.4" fill="#2d5a41"/>
<rect x="637.7" y="502.3" width="4.6" height="18" fill="#6f2b34"/>
<rect x="643.3" y="496.5" width="4.6" height="23.8" fill="#2d5a41"/>
<rect x="648.9" y="493.3" width="4.6" height="27" fill="#2d5a41"/>
<rect x="654.5" y="492" width="4.6" height="28.3" fill="#2d5a41"/>
<rect x="660.1" y="498.8" width="4.6" height="21.5" fill="#6f2b34"/>
<rect x="665.7" y="498.2" width="4.6" height="22.1" fill="#6f2b34"/>
<rect x="671.3" y="493.3" width="4.6" height="27" fill="#2d5a41"/>
<rect x="676.9" y="492.6" width="4.6" height="27.7" fill="#6f2b34"/>
<rect x="682.5" y="496.3" width="4.6" height="24" fill="#2d5a41"/>
<rect x="688" y="499.8" width="4.6" height="20.5" fill="#6f2b34"/>
<rect x="693.6" y="498.8" width="4.6" height="21.5" fill="#2d5a41"/>
<rect x="699.2" y="489.2" width="4.6" height="31.1" fill="#2d5a41"/>
<rect x="704.8" y="481.8" width="4.6" height="38.5" fill="#2d5a41"/>
<rect x="710.4" y="495.9" width="4.6" height="24.4" fill="#6f2b34"/>
<rect x="716" y="497.4" width="4.6" height="22.9" fill="#2d5a41"/>
<rect x="721.6" y="479.7" width="4.6" height="40.6" fill="#2d5a41"/>
<rect x="727.2" y="484.6" width="4.6" height="35.7" fill="#2d5a41"/>
<rect x="732.8" y="479.3" width="4.6" height="41" fill="#6f2b34"/>
<rect x="738.4" y="494.9" width="4.6" height="25.4" fill="#2d5a41"/>
<rect x="743.9" y="486.3" width="4.6" height="34" fill="#2d5a41"/>
<rect x="749.5" y="495.3" width="4.6" height="25" fill="#6f2b34"/>
<rect x="755.1" y="489.4" width="4.6" height="30.9" fill="#6f2b34"/>
<rect x="760.7" y="517.4" width="4.6" height="2.9" fill="#6f2b34"/>
</g>
<path d="M38 476.3 C45.1 476.6 45.7 475.3 59.3 477.2 C72.9 479.1 65.8 478.2 78.8 482.1 C91.8 486 85.4 485 98.4 489 C111.4 493 104.9 491.9 117.9 494.2 C130.9 496.5 121.1 495.3 137.4 495.8 C153.7 496.3 147.2 496.1 166.7 495.8 C186.2 495.5 179.7 496.2 196 494.8 C212.3 493.4 204.2 493.3 215.5 491.5 C226.8 489.7 222 490.8 230 489.3 C238 487.8 229.8 488.1 239.5 487 C249.2 485.9 239.6 486.3 259.1 486 C278.6 485.7 278.6 485.5 298.1 486 C317.6 486.5 304.7 486 317.7 487.6 C330.7 489.2 324.2 488.7 337.2 490.9 C350.2 493.1 343.7 492.2 356.7 494.2 C369.7 496.2 363.3 495.2 376.3 496.8 C389.3 498.4 381.2 497.9 395.8 499.1 C410.4 500.3 405.3 500 420 500.3 C434.7 500.6 426.7 500.4 440 500 C453.3 499.6 440 499.8 460 499 C480 498.2 477.7 498.6 500 497.7 C522.3 496.8 511.3 496.7 527 496.4 C542.7 496.1 534 496.4 547 496.8 C560 497.2 553 497.3 566 497.7 C579 498.1 571.3 498.2 586 498.1 C600.7 498 595.7 497.9 610 497.5 C624.3 497.1 609.7 497.7 629 496.8 C648.3 495.9 642 495.8 668 494.8 C694 493.8 681 494.4 707 493.8 C733 493.2 727.1 493.4 746 492.9 C764.9 492.4 757.9 492.5 763.8 492.3" fill="none" stroke="#1d4363" stroke-width="1.05"/>
<line x1="38" y1="453.8" x2="1024" y2="453.8" stroke="#2b2b36" stroke-width="1.2"/>
<line x1="38" y1="521.2" x2="1024" y2="521.2" stroke="#2b2b36" stroke-width="1.2"/>
<rect x="38.5" y="545.8" width="942.5" height="47.8" fill="#181628"/>
<g stroke="#1f1d30" stroke-width="1" shape-rendering="crispEdges">
<line x1="38" y1="557.5" x2="981" y2="557.5"/>
<line x1="38" y1="581.5" x2="981" y2="581.5"/>
</g>
<line x1="38.9" y1="545.8" x2="978" y2="545.8" stroke="#82828b" stroke-width="1" stroke-dasharray="3.7 3.97"/>
<line x1="38.9" y1="593.6" x2="978" y2="593.6" stroke="#82828b" stroke-width="1" stroke-dasharray="3.7 3.97"/>
<path d="M39.6 573 L42.1 569 L47.2 574.7 L53 572 L58.5 577 L64 581 L69.5 578.4 L75.2 575.8 L80.8 573.2 L86.6 583.1 L91.5 583.5 L97.4 579.6 L103.2 574.7 L109.1 569.8 L114.4 560 L119.8 565.3 L125.7 566.5 L131.6 568.4 L137 566.3 L142.9 571.2 L148.2 573.1 L154 575.7 L159.5 578.2 L164.8 576.6 L170.6 575.1 L176.5 564.5 L182 566.3 L187.2 569.4 L193.1 556.1 L198.9 550.3 L204.4 541.5 L209.7 532.7 L215.2 530.2 L221 537.2 L226.4 534.1 L232.1 529.8 L237.6 536.2 L243 525.5 L248.7 535.6 L254.2 546.4 L260 545 L265.5 547.3 L271.2 545.4 L276.6 546 L282.1 541.5 L287.8 539.9 L293.2 547.9 L299.1 539.1 L304.4 535.6 L309.8 527.4 L315.7 537.6 L321.2 534.6 L326.4 545.4 L332.3 557.1 L338.2 558.1 L344 562.4 L349.5 560 L354.8 561 L361 554.2 L366.5 556.1 L372 556.6 L377.2 557.1 L383.1 562 L388.6 571.2 L394.4 564.9 L399.7 570.2 L405.2 564.9 L411 555 L416.6 554.8 L422.1 570.4 L427.6 569.4 L433.4 569.2 L438.7 564.5 L444.6 573.3 L450 572.7 L455.5 572.1 L461.2 567.9 L466.6 563.9 L472.5 568.2 L478 567.5 L483.6 561.6 L489.1 558.7 L494.6 564.3 L500.2 552.2 L505.7 547 L511.2 544.4 L516.8 550.3 L522.3 550.7 L528.2 555.7 L533.6 569.2 L539.3 566.5 L545.2 561 L550.6 567.9 L556.5 555.2 L562 558.5 L567.8 566.9 L573.1 567.5 L578.6 570.4 L584.4 575.1 L589.8 572.3 L595.5 582.1 L601 582.5 L606.5 580.5 L612.1 581.9 L617.7 585.4 L623.6 578.6 L629.1 576.1 L634.5 573.3 L640.2 574.3 L645.7 566.5 L651.1 566.5 L656.8 565.9 L662.7 571.4 L668.1 572.3 L673.6 572.3 L679.3 578.2 L684.7 571.4 L690.6 571.8 L696.1 568.8 L701.7 562.4 L707.2 560.6 L712.7 569.8 L718.3 563.6 L723.8 561.4 L729.3 557.5 L734.9 559.6 L740.4 558.1 L745.9 550.3 L751.1 551.6 L758 561 L763.8 561.6" fill="none" stroke="#6e50ac" stroke-width="1.2" stroke-linejoin="round"/>
<line x1="38" y1="598.5" x2="981.3" y2="598.5" stroke="#85858d" stroke-width="1.1"/>
<line x1="981.3" y1="29" x2="981.3" y2="615.5" stroke="#5f5f68" stroke-width="1.3"/>
<text class="ax" x="985.6" y="36">340.000</text>
<text class="ax" x="985.6" y="59.6">280.000</text>
<text class="ax" x="985.6" y="78.3">240.000</text>
<text class="ax" x="985.6" y="100.4">200.000</text>
<text class="ax" x="985.6" y="120.1">170.000</text>
<text class="ax" x="985.6" y="143.7">140.000</text>
<text class="ax" x="985.6" y="162.4">120.000</text>
<text class="ax" x="985.6" y="184.5">100.000</text>
<text class="ax" x="985.6" y="205.6">84.000</text>
<text class="ax" x="985.6" y="224.3">72.000</text>
<text class="ax" x="985.6" y="246.5">60.000</text>
<text class="ax" x="985.6" y="268.6">50.000</text>
<text class="ax" x="985.6" y="289.7">42.000</text>
<text class="ax" x="985.6" y="308.4">36.000</text>
<text class="ax" x="985.6" y="330.5">30.000</text>
<text class="ax" x="985.6" y="352.7">25.000</text>
<text class="ax" x="985.6" y="373.8">21.000</text>
<text class="ax" x="985.6" y="392.5">18.000</text>
<text class="ax" x="985.6" y="410.6">15.500</text>
<text class="ax" x="985.6" y="429.2">13.300</text>
<text class="ax" x="985.6" y="446.8">11.500</text>
<path d="M980.6 86.8 H1016.3 Q1017.8 86.8 1017.8 88.3 V95.3 Q1017.8 96.8 1016.3 96.8 H980.6 Z" fill="#4fbbd8"/>
<text x="985.4" y="95" font-size="7.9" fill="#10222a">209.650</text>
<text class="ax" x="985.6" y="459">200<tspan dx="1.2">M</tspan></text>
<text class="ax" x="985.6" y="491.1">100<tspan dx="1.2">M</tspan></text>
<text class="ax" x="985.6" y="536.3">80.00</text>
<text class="ax" x="985.6" y="560.2">60.00</text>
<text class="ax" x="985.6" y="584.1">40.00</text>
<text class="tm" x="86.6" y="609.6">Jun</text>
<text class="tm" x="136.9" y="609.6">Aug</text>
<text class="tm" x="187.2" y="609.6">9</text>
<text class="tmb" x="254.3" y="609.6">2024</text>
<text class="tm" x="304.6" y="609.6">Mar</text>
<text class="tm" x="354.9" y="609.6">May</text>
<text class="tm" x="427.6" y="609.6">Aug</text>
<text class="tm" x="477.9" y="609.6">Oct</text>
<text class="tmb" x="550.6" y="609.6">2025</text>
<text class="tm" x="623.3" y="609.6">Apr</text>
<text class="tm" x="695.9" y="609.6">Jul</text>
<text class="tm" x="768.6" y="609.6">Oct</text>
<text class="tmb" x="841.3" y="609.6">2026</text>
<text class="tm" x="913.9" y="609.6">Apr</text>
<text x="14" y="18.6" font-size="8.9" fill="#c9c9d1" font-weight="normal" textLength="12.25" lengthAdjust="spacingAndGlyphs" stroke="#c9c9d1" stroke-width="0.4">1m</text>
<text x="37.75" y="18.6" font-size="8.9" fill="#c9c9d1" font-weight="normal" textLength="11.65" lengthAdjust="spacingAndGlyphs" stroke="#c9c9d1" stroke-width="0.4">5m</text>
<text x="61" y="18.6" font-size="8.9" fill="#c9c9d1" font-weight="normal" textLength="16.75" lengthAdjust="spacingAndGlyphs" stroke="#c9c9d1" stroke-width="0.4">15m</text>
<text x="89.75" y="18.6" font-size="8.9" fill="#c9c9d1" font-weight="normal" textLength="9.25" lengthAdjust="spacingAndGlyphs" stroke="#c9c9d1" stroke-width="0.4">1h</text>
<text x="110" y="18.6" font-size="8.9" fill="#c9c9d1" font-weight="normal" textLength="10" lengthAdjust="spacingAndGlyphs" stroke="#c9c9d1" stroke-width="0.4">4h</text>
<text x="131.3" y="18.6" font-size="8.9" fill="#c9c9d1" font-weight="normal" textLength="9.7" lengthAdjust="spacingAndGlyphs" stroke="#c9c9d1" stroke-width="0.4">1d</text>
<text x="152.3" y="18.6" font-size="8.9" fill="#dda033" font-weight="normal" textLength="11.4" lengthAdjust="spacingAndGlyphs" stroke="#dda033" stroke-width="0.4">1w</text>
<text x="174.4" y="18.6" font-size="8.9" fill="#c9c9d1" font-weight="normal" textLength="12.1" lengthAdjust="spacingAndGlyphs" stroke="#c9c9d1" stroke-width="0.4">1M</text>
<path d="M194.4 13.6 h5 l-2.5 3.2z" fill="#e6e6ea"/>
<line x1="209.7" y1="10.5" x2="209.7" y2="20.5" stroke="#2a2a33" stroke-width="1"/>
<g class="ic"><path d="M219.5 10.8 V19.2 H228"/><path d="M221.3 15.9 l1.6 -1.5 l1.5 1.1 l2.8 -2.4"/></g>
<g class="ic"><path d="M235.9 11.5 h9.2 M235.9 14.6 h2.6 M235.9 18 h2.6"/><ellipse cx="242.5" cy="16.4" rx="2.4" ry="1.7"/><circle cx="242.5" cy="16.4" r="0.5"/></g>
<circle cx="246.5" cy="9.5" r="1.55" fill="#e2405f"/>
<g class="ic"><rect x="253.4" y="11.8" width="2.8" height="6.8" rx="1.4"/><path d="M254.8 10.5 v1.3 M254.8 18.6 v1.2"/><rect x="258" y="11.8" width="2.8" height="6.8" rx="1.4"/><path d="M259.4 10.5 v1.3 M259.4 18.6 v1.2"/></g>
<g class="ic"><path d="M271.3 10.9 h4.9 l2.5 4.3 l-2.5 4.3 h-4.9 l-2.5 -4.3z"/><circle cx="273.75" cy="15.2" r="1.7"/></g>
<text x="285.1" y="18.7" font-size="9.3" fill="#d6d6dc" font-weight="normal" textLength="63.9" lengthAdjust="spacingAndGlyphs" stroke="#d6d6dc" stroke-width="0.25">Last Traded Price</text>
<path d="M352.5 13.5 h4.9 l-2.45 3.1z" fill="#dcdce2"/>
<line x1="367.8" y1="10.5" x2="367.8" y2="20.5" stroke="#2a2a33" stroke-width="1"/>
<g class="ic" style="stroke-width:1.15"><circle cx="382.2" cy="15" r="4.6"/><path d="M380.3 15 h3.8 M382.2 13.1 v3.8"/></g>
<g class="ic"><path d="M989 13.6 h1.9 l1 -1.9 h2.8 l1 1.9 h1.9 q0.6 0 0.6 0.6 v4.6 q0 0.6 -0.6 0.6 h-8.6 q-0.6 0 -0.6 -0.6 v-4.6 q0 -0.6 0.6 -0.6z"/><circle cx="993.3" cy="16.3" r="1.7"/></g>
<g class="ic"><rect x="1005.6" y="11" width="8.9" height="8.9" rx="1.4"/></g><rect x="1007.4" y="12.8" width="2" height="2" fill="#b9b9c1"/><rect x="1010.7" y="16.1" width="2" height="2" fill="#b9b9c1"/>
<text x="45.9" y="44.1" font-size="9.6" fill="#9d9da5" font-weight="normal" textLength="136.6" lengthAdjust="spacingAndGlyphs">SOLUSDT Perpetual · 1W · Bybit</text>
<text x="188.4" y="44.1" font-size="9.5" fill="#9d9da5" font-weight="normal" textLength="6.3" lengthAdjust="spacingAndGlyphs">O</text>
<text x="196.5" y="44.1" font-size="9.5" fill="#4db6d4" font-weight="normal" textLength="35.7" lengthAdjust="spacingAndGlyphs">210.670</text>
<text x="237" y="44.1" font-size="9.5" fill="#9d9da5" font-weight="normal" textLength="6" lengthAdjust="spacingAndGlyphs">H</text>
<text x="244.8" y="44.1" font-size="9.5" fill="#4db6d4" font-weight="normal" textLength="35.5" lengthAdjust="spacingAndGlyphs">213.380</text>
<text x="285.5" y="44.1" font-size="9.5" fill="#9d9da5" font-weight="normal" textLength="4.6" lengthAdjust="spacingAndGlyphs">L</text>
<text x="291" y="44.1" font-size="9.5" fill="#4db6d4" font-weight="normal" textLength="35.6" lengthAdjust="spacingAndGlyphs">204.410</text>
<text x="332" y="44.1" font-size="9.5" fill="#9d9da5" font-weight="normal" textLength="5.6" lengthAdjust="spacingAndGlyphs">C</text>
<text x="339" y="44.1" font-size="9.5" fill="#4db6d4" font-weight="normal" textLength="35.7" lengthAdjust="spacingAndGlyphs">209.650</text>
<text x="380" y="44.1" font-size="9.5" fill="#4db6d4" font-weight="normal" textLength="72.3" lengthAdjust="spacingAndGlyphs">−1.020 (−0.48%)</text>
<rect x="46.1" y="50.5" width="21.8" height="13.8" rx="2" fill="#100e15" stroke="#36363f" stroke-width="1"/>
<path d="M50.3 56.3 l2.3 2.2 l2.3 -2.2" fill="none" stroke="#d2d2d8" stroke-width="1.2" stroke-linecap="round" stroke-linejoin="round"/>
<text x="59.8" y="60.6" font-size="8.8" fill="#d2d2d8" font-weight="normal" textLength="4.8" lengthAdjust="spacingAndGlyphs">2</text>
<g stroke="#c08f2e" stroke-width="0.95" stroke-linecap="round"><path d="M18.4 38.2 V43.6 M18.4 49.3 V54.6 M10.2 46.4 H15.6 M21.2 46.4 H26.6"/></g>
<g class="ic"><path d="M13.5 75.5 L22.5 66.7"/><circle cx="12.2" cy="76.8" r="1.8"/><circle cx="23.8" cy="65.4" r="1.8"/></g>
<g class="ic"><path d="M10.6 89.5 H25.7 M10.6 93.6 H23.8 M10.6 98.1 H25.7 M12.6 102.2 H25.7"/><circle cx="25.2" cy="93.6" r="1.4"/><circle cx="11" cy="102.2" r="1.4"/></g>
<g class="ic" stroke-width="0.9"><path d="M12.4 126.6 L14.2 116.4 L17.6 120 L22.6 116.4 L24.6 124.8 L17.6 120 L12.4 126.6"/><circle cx="14.2" cy="115.2" r="1.3"/><circle cx="22.8" cy="115.4" r="1.3"/><circle cx="12" cy="127.2" r="1.3"/><circle cx="25" cy="125.4" r="1.3"/><circle cx="17.6" cy="120" r="1.1"/></g>
<g class="ic"><path d="M12.4 141.3 H25.6 M12.4 147.8 H22.6 M12.4 152.1 H25.6"/><circle cx="11.3" cy="141.3" r="1.3"/><circle cx="11.3" cy="147.8" r="1.3"/><circle cx="11.3" cy="152.1" r="1.3"/><circle cx="24" cy="147.8" r="1.3"/><path d="M14 146 l8 -3.2" stroke-dasharray="0.8 1.4"/></g>
<g class="ic"><path d="M10.6 177 L14.6 171 Q17.4 168.8 19.6 171.2 Q21.4 173.8 18.6 176 Z"/><path d="M20.4 167 Q21.4 170.2 23.4 169.4 L27.2 166.2"/></g>
<g class="ic" stroke-width="1.1"><path d="M13.6 192.6 V191 H23.8 V192.6 M18.7 191 V202.2 M16.8 202.3 H20.6"/></g>
<g class="ic"><circle cx="18" cy="221.9" r="7.5"/><path d="M15.2 224 Q18 227 20.8 224"/></g><circle cx="15.8" cy="220" r="0.8" fill="#b9b9c1"/><circle cx="20.2" cy="220" r="0.8" fill="#b9b9c1"/>
<line x1="6" y1="238.6" x2="31" y2="238.6" stroke="#34343e" stroke-width="1"/>
<g class="ic"><path d="M10.2 260.4 L23.6 247.4 L26.8 250.8 L13.4 263.9 Z"/><path d="M13.6 257.2 l1.5 1.5 M15.9 255 l1.1 1.1 M18.2 252.8 l1.5 1.5 M20.5 250.6 l1.1 1.1 M22.6 248.6 l1.3 1.3" stroke-width="0.8"/></g>
<g class="ic"><circle cx="16.8" cy="280.2" r="5.5"/><path d="M20.8 284.2 L23.6 287"/><path d="M14.6 280.2 h4.4 M16.8 278 v4.4" stroke-width="1.3"/></g>
<line x1="6" y1="298" x2="31" y2="298" stroke="#34343e" stroke-width="1"/>
<g class="ic"><path d="M12.2 321.4 V314.2 Q12.2 308.6 18 308.6 Q23.8 308.6 23.8 314.2 V321.4 H20.4 V314.4 Q20.4 311.8 18 311.8 Q15.6 311.8 15.6 314.4 V321.4 Z"/><path d="M12.2 318.8 h3.4 M20.4 318.8 h3.4"/></g>
<g class="ic"><path d="M10.4 343.6 L11.4 340.2 L18.6 333.4 L21.2 336 L14 342.8 Z M17 335 l2.6 2.6"/><rect x="19.2" y="344" width="5.4" height="4.2" rx="0.6"/><path d="M20.6 344 v-1.2 q0 -1.6 1.5 -1.6 q1 0 1.3 0.8"/></g>
<g class="ic"><rect x="12.4" y="364.2" width="11.4" height="7.6" rx="1.2"/><path d="M15 364.2 V362 Q15 359 18 359 Q20.4 359 20.9 361"/></g><rect x="17.4" y="366.8" width="1.4" height="2.2" fill="#b9b9c1"/>
<g class="ic"><path d="M11.2 387.9 Q17.4 378.6 23.6 387.9 Q17.4 397.2 11.2 387.9 Z"/><circle cx="17.4" cy="387.9" r="2.3"/><path d="M19.4 397.2 l2 -2.2 l1.2 1 l-1.6 1.6 z M22.6 394.4 l1.8 -1.4" stroke-width="0.9"/></g>
<line x1="6" y1="407.5" x2="31" y2="407.5" stroke="#34343e" stroke-width="1"/>
<g class="ic"><path d="M12 420.2 H24 M15.8 420.2 V418 H20.2 V420.2 M13.2 420.2 L14.2 430.8 H21.8 L22.8 420.2"/></g>
<circle cx="58.8" cy="577.9" r="11.3" fill="#19191d" stroke="#3b3b44" stroke-width="1.2"/>
<path d="M51.4 574.3 H58 V581.8 H54.9 V576.8 H51.4 Z M62.9 574.3 H66.6 L64 581.8 H60.5 Z" fill="#ffffff"/>
<circle cx="59.9" cy="575.3" r="0.9" fill="#ffffff"/>
<rect x="31.8" y="584.6" width="6.6" height="18.6" rx="2.4" fill="#c9c9ce"/>
<path d="M36 591.6 l-2 2.2 l2 2.2" fill="none" stroke="#3b3b45" stroke-width="0.9"/>
<text x="50.3" y="633.9" font-size="9" fill="#cfcfd6" font-weight="normal" textLength="10.9" lengthAdjust="spacingAndGlyphs">1D</text>
<text x="71" y="633.9" font-size="9" fill="#cfcfd6" font-weight="normal" textLength="11.8" lengthAdjust="spacingAndGlyphs">5D</text>
<text x="92.8" y="633.9" font-size="9" fill="#cfcfd6" font-weight="normal" textLength="12.8" lengthAdjust="spacingAndGlyphs">1M</text>
<text x="115" y="633.9" font-size="9" fill="#cfcfd6" font-weight="normal" textLength="13.3" lengthAdjust="spacingAndGlyphs">3M</text>
<text x="137.4" y="633.9" font-size="9" fill="#cfcfd6" font-weight="normal" textLength="13.5" lengthAdjust="spacingAndGlyphs">6M</text>
<text x="161.2" y="633.9" font-size="9" fill="#cfcfd6" font-weight="normal" textLength="10.8" lengthAdjust="spacingAndGlyphs">1Y</text>
<line x1="179.4" y1="623" x2="179.4" y2="637.6" stroke="#34343e" stroke-width="1"/>
<g class="ic"><path d="M189.8 631.4 V626.6 Q189.8 625.4 191 625.4 H200.8 Q202 625.4 202 626.6 V634.8 Q202 636 200.8 636 H196.6 M189.8 628.6 H202 M192.6 623.6 V626.6 M199.2 623.6 V626.6 M189.4 634 H194.6 M192.6 631.8 l2.2 2.2 l-2.2 2.2"/></g>
<text x="866.5" y="634" font-size="10" fill="#cfcfd6" font-weight="normal" textLength="75.5" lengthAdjust="spacingAndGlyphs">21:28:28 UTC+3</text>
<line x1="949.3" y1="623" x2="949.3" y2="637.6" stroke="#34343e" stroke-width="1"/>
<text x="956.9" y="634" font-size="10" fill="#cfcfd6" font-weight="normal" textLength="9.1" lengthAdjust="spacingAndGlyphs">%</text>
<text x="975.2" y="634" font-size="10" fill="#d89a2e" font-weight="normal" textLength="12.9" lengthAdjust="spacingAndGlyphs" stroke="#d89a2e" stroke-width="0.35">log</text>
<text x="997.6" y="634" font-size="10" fill="#d89a2e" font-weight="normal" textLength="19.1" lengthAdjust="spacingAndGlyphs" stroke="#d89a2e" stroke-width="0.35">auto</text>
<g class="ic"><path d="M1000.2 603.3 h5.2 l2.6 4.4 l-2.6 4.4 h-5.2 l-2.6 -4.4z"/><circle cx="1002.8" cy="607.7" r="1.8"/></g>
</svg></body></html>
